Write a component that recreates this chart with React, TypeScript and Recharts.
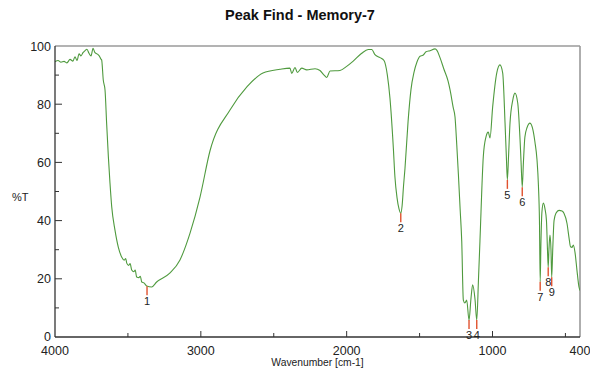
import {
  ComposedChart,
  Line,
  Scatter,
  XAxis,
  YAxis,
  ReferenceLine,
} from "recharts";

// spectrum (wavenumber in cm-1, %T)
const wavenumbers = [
  4000, 3979, 3959, 3938, 3918, 3897, 3877, 3863, 3849, 3835, 3822, 3808, 3794, 3781, 3767, 3753, 3739,
  3726, 3712, 3698, 3685, 3680, 3669, 3657, 3646, 3634, 3623, 3611, 3589, 3566, 3543, 3525, 3515, 3508,
  3495, 3485, 3474, 3460, 3450, 3440, 3425, 3415, 3405, 3390, 3380, 3371, 3337, 3303, 3211, 3143, 3074,
  3006, 2937, 2800, 2683, 2574, 2457, 2389, 2377, 2354, 2338, 2308, 2274, 2217, 2183, 2155, 2137, 2114,
  2046, 2000, 1955, 1897, 1852, 1828, 1806, 1771, 1744, 1721, 1703, 1680, 1669, 1655, 1641, 1629, 1620,
  1610, 1600, 1579, 1559, 1538, 1518, 1497, 1477, 1456, 1429, 1394, 1381, 1360, 1333, 1305, 1291, 1270,
  1257, 1245, 1234, 1222, 1211, 1200, 1189, 1177, 1161, 1148, 1136, 1120, 1108, 1096, 1086, 1063, 1045,
  1029, 1017, 999, 971, 949, 930, 914, 905, 898, 890, 880, 861, 846, 827, 811, 804, 796, 788, 778, 763,
  743, 722, 709, 695, 685, 678, 673, 668, 661, 651, 640, 630, 623, 618, 613, 606, 599, 594, 587, 578,
  565, 544, 523, 510, 489, 475, 465, 455, 446, 434, 421, 407, 400,
];
const transmittance = [
  94.6, 95, 94.4, 94.7, 94.2, 95.4, 94.8, 96.3, 95, 97.3, 96.6, 97.7, 98.4, 98.9, 97.5, 96.6, 99.2,
  97.7, 97.3, 96.7, 95.5, 95.2, 88.3, 84.9, 73.5, 61.9, 52.9, 44.7, 36.8, 30.9, 27.5, 26.4, 27, 25.4,
  24.6, 25.2, 23, 22.4, 23, 20.6, 20.4, 20.9, 18.9, 18.6, 18, 17.5, 17.2, 18.9, 22, 26.5, 35.7,
  48, 64, 78, 86, 90.7, 92, 92.4, 90.6, 92.6, 90.9, 92.4, 91.8, 92.2, 91.6, 90, 89.2, 91.4,
  91.6, 93, 94.8, 97.5, 98.8, 98.8, 97, 96, 95, 90, 82, 65, 55, 48, 44, 42.5, 45,
  52, 58, 74, 85, 91, 94.5, 96.5, 96.8, 98, 98.4, 99, 98.5, 96, 92, 88, 84.9, 79,
  75.6, 66, 56, 44, 33, 12.7, 11.7, 12.7, 5.8, 13, 17.9, 13, 5.8, 20, 33, 62, 68.7,
  70.4, 68.4, 79, 90.7, 93.5, 90.7, 73.5, 62, 54, 62, 73.5, 81.4, 83.8, 80.4, 67.7, 60, 51.5, 60, 68.7, 72,
  73.5, 71, 67, 61, 52, 40, 19, 32, 43, 46, 44, 40, 30, 24, 30, 35, 30, 20.5, 30, 40,
  42.5, 43.5, 43.3, 42.5, 39, 34, 31, 30.8, 31.6, 29, 23, 17.2, 16,
];

// picked peaks
const peakWn = [3369, 1629, 1161, 1108, 898, 796, 673, 618, 594];
const peakT = [17.4, 42.5, 5.8, 5.8, 54, 51.5, 19, 24, 20.5];
const peakLabels = ["1", "2", "3", "4", "5", "6", "7", "8", "9"];

const xTicks = [4000, 3500, 3000, 2500, 2000, 1500, 1000, 500, 400];
const xLabeled = [4000, 3000, 2000, 1000, 400];
const yTicks = [0, 10, 20, 30, 40, 50, 60, 70, 80, 90, 100];

const spectrum = wavenumbers.map((wn, i) => ({ wn, t: transmittance[i] }));
const peaks = peakWn.map((wn, i) => ({ wn, t: peakT[i], label: peakLabels[i] }));

const FONT = "'Liberation Sans', Arial, sans-serif";
const AXIS = "#333";

const XTick = (props: any) => {
  const { x, y, payload } = props;
  const v = payload.value;
  const major = xLabeled.includes(v);
  return (
    <g>
      {v !== 4000 && v !== 400 && (
        <line x1={x} x2={x} y1={y - 9} y2={y - 9 - (major ? 6 : 4)} stroke={AXIS} />
      )}
      {major && (
        <text x={x} y={y} dy="0.71em" textAnchor="middle" fontSize={12.5} fill="#222" fontFamily={FONT}>
          {v}
        </text>
      )}
    </g>
  );
};

const YTick = (props: any) => {
  const { x, y, payload } = props;
  const v = payload.value;
  const major = v % 20 === 0;
  return (
    <g>
      {v !== 0 && v !== 100 && (
        <line x1={x + 4} x2={x + 4 + (major ? 7 : 4)} y1={y} y2={y} stroke={AXIS} />
      )}
      {major && (
        <text x={x} y={v === 0 ? y - 1 : y} dy="0.36em" textAnchor="end" fontSize={12.5} fill="#222" fontFamily={FONT}>
          {v}
        </text>
      )}
    </g>
  );
};

const PeakMark = (props: any) => {
  const { cx, cy, payload } = props;
  return (
    <g>
      <line x1={cx} x2={cx} y1={cy} y2={cy + 9} stroke="#e0522e" strokeWidth={1.4} />
      <text x={cx} y={cy + 19} textAnchor="middle" fontSize={11} fill="#222" fontFamily={FONT}>
        {payload.label}
      </text>
    </g>
  );
};

export default function App() {
  return (
    <div style={{ position: "absolute", left: 0, top: 0, width: 590, height: 369, background: "#fff", fontFamily: FONT }}>
      <div style={{ position: "absolute", left: 0, width: 600, top: 7, textAlign: "center", fontSize: 14.5, fontWeight: "bold", color: "#111" }}>
        Peak Find - Memory-7
      </div>
      <div style={{ position: "absolute", left: 12, top: 191, fontSize: 11, color: "#222" }}>%T</div>
      <div style={{ position: "absolute", left: 55, width: 525, top: 357, textAlign: "center", fontSize: 10.3, color: "#222" }}>
        Wavenumber [cm-1]
      </div>
      <ComposedChart
        width={590}
        height={369}
        data={spectrum}
        margin={{ top: 46, right: 10, left: 0, bottom: 0 }}
      >
        <XAxis
          xAxisId="x"
          dataKey="wn"
          type="number"
          domain={[400, 4000]}
          reversed
          allowDataOverflow
          ticks={xTicks}
          interval={0}
          tick={<XTick />}
          tickLine={false}
          tickSize={0}
          tickMargin={9}
          height={32}
          axisLine={{ stroke: AXIS, strokeWidth: 1.3 }}
        />
        <YAxis
          yAxisId="y"
          type="number"
          domain={[0, 100]}
          ticks={yTicks}
          interval={0}
          tick={<YTick />}
          tickLine={false}
          tickSize={0}
          tickMargin={4}
          width={55}
          axisLine={{ stroke: AXIS, strokeWidth: 1.3 }}
        />
        <ReferenceLine xAxisId="x" yAxisId="y" y={100} stroke="#9a9a9a" strokeWidth={1.6} />
        <ReferenceLine xAxisId="x" yAxisId="y" x={400} stroke="#9a9a9a" strokeWidth={1.6} />
        <Line
          xAxisId="x"
          yAxisId="y"
          dataKey="t"
          type="monotone"
          stroke="#4f9a3e"
          strokeWidth={1.1}
          dot={false}
          activeDot={false}
          isAnimationActive={false}
        />
        <Scatter
          xAxisId="x"
          yAxisId="y"
          data={peaks}
          dataKey="t"
          shape={<PeakMark />}
          isAnimationActive={false}
        />
      </ComposedChart>
    </div>
  );
}
